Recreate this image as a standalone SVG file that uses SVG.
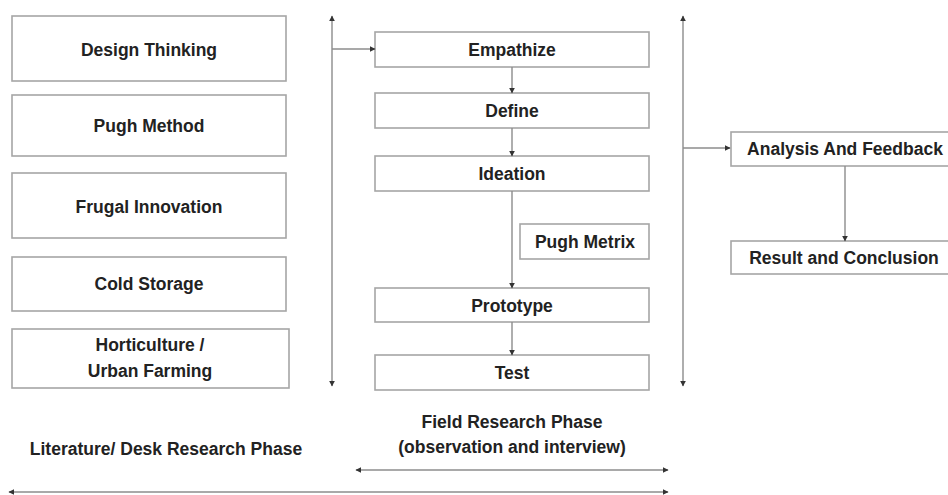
<svg xmlns="http://www.w3.org/2000/svg" width="948" height="495" viewBox="0 0 948 495">
<defs>
<style>
.box{fill:#fff;stroke:#a6a6a6;stroke-width:1.6}
.t{font-family:"Liberation Sans",Arial,sans-serif;font-weight:bold;font-size:17.5px;fill:#222;text-anchor:middle}
.ln{stroke:#8c8c8c;stroke-width:1.4;fill:none}
</style>
<marker id="ah" viewBox="0 0 10 10" refX="9" refY="5" markerWidth="6" markerHeight="6" markerUnits="userSpaceOnUse" orient="auto-start-reverse">
<path d="M0,0 L10,5 L0,10 z" fill="#333"/>
</marker>
</defs>
<rect width="948" height="495" fill="#fff"/>
<g id="design-thinking"><rect class="box" x="12" y="16" width="274" height="65"/><text class="t" x="149" y="56">Design Thinking</text></g>
<g id="pugh-method"><rect class="box" x="12" y="95" width="274" height="61"/><text class="t" x="149" y="132">Pugh Method</text></g>
<g id="frugal-innovation"><rect class="box" x="12" y="173" width="274" height="65"/><text class="t" x="149" y="213">Frugal Innovation</text></g>
<g id="cold-storage"><rect class="box" x="12" y="257" width="274" height="54"/><text class="t" x="149" y="290">Cold Storage</text></g>
<g id="horticulture"><rect class="box" x="12" y="329" width="277" height="59"/><text class="t" x="150" y="351">Horticulture /</text><text class="t" x="150" y="377">Urban Farming</text></g>
<g id="empathize"><rect class="box" x="375" y="32" width="274" height="35"/><text class="t" x="512" y="56">Empathize</text></g>
<g id="define"><rect class="box" x="375" y="93" width="274" height="35"/><text class="t" x="512" y="117">Define</text></g>
<g id="ideation"><rect class="box" x="375" y="156" width="274" height="35"/><text class="t" x="512" y="180">Ideation</text></g>
<g id="pugh-metrix"><rect class="box" x="520" y="224" width="129" height="35"/><text class="t" x="585" y="248">Pugh Metrix</text></g>
<g id="prototype"><rect class="box" x="375" y="288" width="274" height="34"/><text class="t" x="512" y="312">Prototype</text></g>
<g id="test"><rect class="box" x="375" y="355" width="274" height="35"/><text class="t" x="512" y="379">Test</text></g>
<g id="analysis"><rect class="box" x="731" y="132" width="230" height="34"/><text class="t" x="845" y="155">Analysis And Feedback</text></g>
<g id="result"><rect class="box" x="731" y="241" width="230" height="33"/><text class="t" x="844" y="264">Result and Conclusion</text></g>
<g id="labels">
<text class="t" x="512" y="428">Field Research Phase</text>
<text class="t" x="512" y="453">(observation and interview)</text>
<text class="t" x="166" y="455">Literature/ Desk Research Phase</text>
</g>
<g id="connectors">
<line class="ln" x1="332" y1="386" x2="332" y2="16" marker-start="url(#ah)" marker-end="url(#ah)"/>
<line class="ln" x1="332" y1="49" x2="375" y2="49" marker-end="url(#ah)"/>
<line class="ln" x1="512" y1="67" x2="512" y2="93" marker-end="url(#ah)"/>
<line class="ln" x1="512" y1="128" x2="512" y2="156" marker-end="url(#ah)"/>
<line class="ln" x1="512" y1="191" x2="512" y2="288" marker-end="url(#ah)"/>
<line class="ln" x1="512" y1="322" x2="512" y2="355" marker-end="url(#ah)"/>
<line class="ln" x1="683" y1="386" x2="683" y2="16" marker-start="url(#ah)" marker-end="url(#ah)"/>
<line class="ln" x1="683" y1="148" x2="730" y2="148" marker-end="url(#ah)"/>
<line class="ln" x1="845" y1="166" x2="845" y2="241" marker-end="url(#ah)"/>
<line class="ln" x1="356" y1="470" x2="668" y2="470" marker-start="url(#ah)" marker-end="url(#ah)"/>
<line class="ln" x1="9" y1="492" x2="668" y2="492" marker-start="url(#ah)" marker-end="url(#ah)"/>
</g>
</svg>
